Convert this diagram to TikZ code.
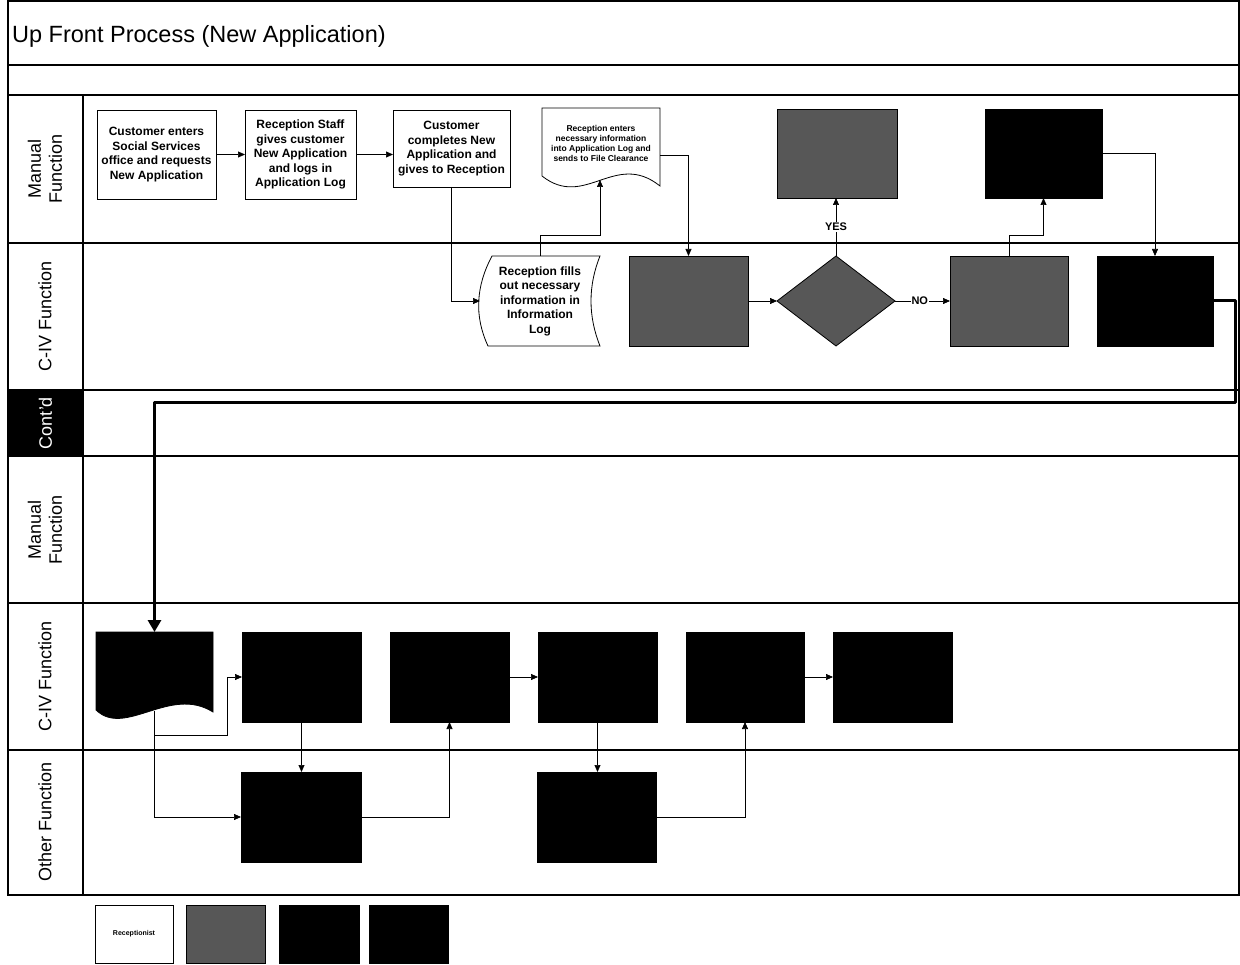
\documentclass[tikz,border=0pt]{standalone}
\usepackage{fontspec}
\setmainfont{Liberation Sans}
\usetikzlibrary{shapes.geometric,arrows.meta}
\begin{document}
\begin{tikzpicture}[x=1pt,y=-1pt,
  lane/.style={line width=1.1pt},
  proc/.style={draw, line width=0.8pt, inner sep=0pt, outer sep=0pt, align=center, font=\bfseries\fontsize{12}{14.5}\selectfont},
  txt/.style={inner sep=0pt, outer sep=0pt, align=center, font=\bfseries\fontsize{12}{14.5}\selectfont},
  gbox/.style={draw, fill=black!66, line width=0.8pt, inner sep=0pt, outer sep=0pt},
  kbox/.style={draw, fill=black, line width=0.8pt, inner sep=0pt, outer sep=0pt},
  arr/.style={line width=0.7pt, -{Triangle[length=7pt,width=6pt]}},
  bigarr/.style={line width=3pt, line join=round, -{Triangle[length=12pt,width=13pt]}},
  lbl/.style={rotate=90, align=center, inner sep=0pt, font=\fontsize{18}{21}\selectfont},
  yn/.style={fill=white, inner sep=1pt, font=\bfseries\fontsize{11}{13}\selectfont},
]
\useasboundingbox (0,0) rectangle (1240,965);
% frame and lanes
\draw[lane] (8,1) rectangle (1239,895);
\foreach \yy in {65,95,243,390,456,603,750} \draw[lane] (8,\yy) -- (1239,\yy);
\draw[lane] (83,95) -- (83,895);
\node[anchor=west, inner sep=0pt, font=\fontsize{23.5}{26}\selectfont] (title) at (12,36) {Up Front Process (New Application)};
% lane labels
\node[lbl] (l1) at (45,169) {Manual\\Function};
\node[lbl] (l2) at (45,316) {C-IV Function};
\node[rotate=90, fill=black, text=white, minimum width=66pt, minimum height=75pt, inner sep=0pt, font=\fontsize{18}{21}\selectfont] (l3) at (45.5,423) {Cont'd};
\node[lbl] (l4) at (45,530) {Manual\\Function};
\node[lbl] (l5) at (45,676) {C-IV Function};
\node[lbl] (l6) at (45,822) {Other Function};

% top section, manual lane
\node[proc, minimum width=119pt, minimum height=89pt] (b1) at (156.5,154.5) {Customer enters\\Social Services\\office and requests\\New Application};
\node[proc, minimum width=111pt, minimum height=89pt] (b2) at (300.5,154.5) {Reception Staff\\gives customer\\New Application\\and logs in\\Application Log};
\node[proc, minimum width=117pt, minimum height=77pt] (b3) at (451.5,148.5) {Customer\\completes New\\Application and\\gives to Reception};
% document shape
\draw[line width=0.8pt, fill=white] (542,108) -- (660,108) -- (660,186) .. controls (615,150) and (585,210) .. (542,176) -- cycle;
\node[txt, minimum width=118pt, minimum height=70pt, font=\bfseries\fontsize{8.5}{10}\selectfont] (doc1) at (601,143) {Reception enters\\necessary information\\into Application Log and\\sends to File Clearance};
\coordinate (doc1in) at (600,180);
\coordinate (doc1out) at (660,155);
\node[gbox, minimum width=120pt, minimum height=89pt] (g2) at (837,153.5) {};
\node[kbox, minimum width=117pt, minimum height=89pt] (k1) at (1043.5,153.5) {};

% top section, C-IV lane
\draw[line width=0.8pt, fill=white] (492,256) -- (600,256) .. controls (588,286) and (588,316) .. (600,346) -- (488,346) .. controls (474,316) and (476,286) .. (492,256) -- cycle;
\node[txt, minimum width=120pt, minimum height=90pt] (recfill) at (540,301) {Reception fills\\out necessary\\information in\\Information\\Log};
\node[gbox, minimum width=119pt, minimum height=90pt] (g1) at (688.5,301) {};
\node[diamond, draw, fill=black!66, line width=0.8pt, inner sep=0pt, outer sep=0pt, aspect=1.31, minimum width=118pt, minimum height=90pt] (dia) at (836,301) {};
\node[gbox, minimum width=118pt, minimum height=90pt] (g3) at (1009,301) {};
\node[kbox, minimum width=116pt, minimum height=90pt] (k2) at (1155,301) {};

% connectors top
\draw[arr] (b1.east) -- (b2.west);
\draw[arr] (b2.east) -- (b2.east -| b3.west);
\draw[arr] (b3.south) |- (recfill.west);
\draw[arr] (recfill.north) -- ++(0,-21) -| (doc1in);
\draw[arr] (doc1out) -| (g1.north);
\draw[arr] (g1.east) -- (dia.west);
\draw[arr] (dia.north) -- node[yn] {YES} (dia.north |- g2.south);
\draw[arr] (dia.east) -- node[yn, pos=0.45] {NO} (g3.west);
\draw[arr] (g3.north) -- ++(0,-21) -| (k1.south);
\draw[arr] (k1.east) -| (k2.north);

% bottom section
\draw[line width=0.8pt, fill=black] (96,632) -- (213,632) -- (213,712) .. controls (170,685) and (125,738) .. (96,710) -- cycle;
\node[inner sep=0pt, outer sep=0pt, minimum width=117pt, minimum height=80pt] (doc2) at (154.5,672) {};
\coordinate (doc2out) at (154.5,711);
\coordinate (bendA) at (1235,403);
\coordinate (bendC) at (227,735);
\draw[bigarr] (k2.east) -| (bendA) -| (doc2.north);

\node[kbox, minimum width=119pt, minimum height=90pt] (k3) at (301.5,677) {};
\node[kbox, minimum width=119pt, minimum height=90pt] (k4) at (449.5,677) {};
\node[kbox, minimum width=119pt, minimum height=90pt] (k5) at (597.5,677) {};
\node[kbox, minimum width=118pt, minimum height=90pt] (k6) at (745,677) {};
\node[kbox, minimum width=119pt, minimum height=90pt] (k7) at (892.5,677) {};
\node[kbox, minimum width=120pt, minimum height=90pt] (k8) at (301,817) {};
\node[kbox, minimum width=119pt, minimum height=90pt] (k9) at (596.5,817) {};

\draw[arr] (doc2out) |- (bendC) |- (k3.west);
\draw[arr] (doc2out) |- (k8.west);
\draw[arr] (k3.south) -- (k3.south |- k8.north);
\draw[arr] (k8.east) -| (k4.south);
\draw[arr] (k4.east) -- (k5.west);
\draw[arr] (k5.south) -- (k5.south |- k9.north);
\draw[arr] (k9.east) -| (k6.south);
\draw[arr] (k6.east) -- (k7.west);

% legend
\node[draw, line width=0.8pt, minimum width=78pt, minimum height=58pt, inner sep=0pt, font=\bfseries\fontsize{7}{8}\selectfont] (lg1) at (134,934) {Receptionist};
\node[gbox, minimum width=79pt, minimum height=58pt] (lg2) at (225.5,934) {};
\node[kbox, minimum width=80pt, minimum height=58pt] (lg3) at (319,934) {};
\node[kbox, minimum width=79pt, minimum height=58pt] (lg4) at (408.5,934) {};
\end{tikzpicture}
\end{document}
